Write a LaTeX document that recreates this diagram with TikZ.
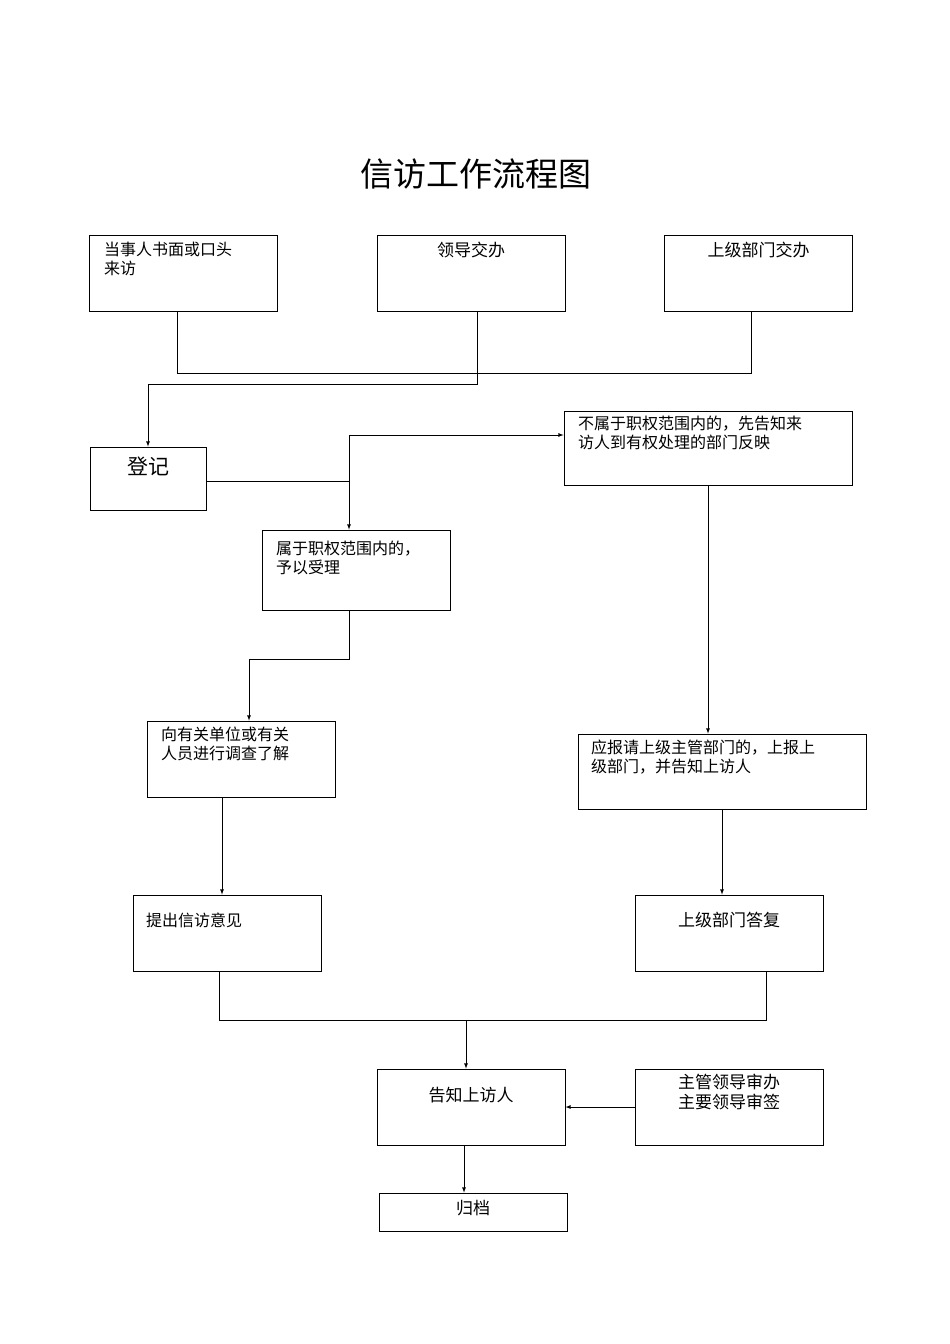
\documentclass[tikz,border=0pt]{standalone}
\usepackage{fontspec}
\newfontfamily\cjk{Noto Sans CJK SC}
\usetikzlibrary{positioning}
\tikzset{
	box/.style={draw, line width=0.8pt, minimum width=188pt, minimum height=76pt, inner sep=0pt},
	txt/.style={anchor=north west, align=left, font=\cjk\fontsize{16}{19}\selectfont, inner sep=0pt},
	ctxt/.style={anchor=north, align=center, font=\cjk\fontsize{17}{20}\selectfont, inner sep=0pt},
	line/.style={line width=0.8pt},
	arr/.style={line width=0.8pt, -latex}
}
\begin{document}
\begin{tikzpicture}[x=1pt,y=-1pt]
\useasboundingbox (0,0) rectangle (950,1344);

\node[font=\cjk\fontsize{33}{36}\selectfont] (title) at (476,174) {信访工作流程图};

% top row
\node[box] (a) at (183.5,273.5) {};
\node[txt] at (104,242) {当事人书面或口头\\来访};
\node[box] (b) at (471,273.5) {};
\node[ctxt] at (471,242) {领导交办};
\node[box] (c) at (758.5,273.5) {};
\node[ctxt] at (758.5,242) {上级部门交办};

% register
\node[box, minimum width=116pt, minimum height=63pt] (d) at (148,478.5) {};
\node[font=\cjk\fontsize{21}{24}\selectfont] at (148,466) {登记};

\node[box, minimum width=288pt, minimum height=74pt] (f) at (708,448) {};
\node[txt] at (578,416) {不属于职权范围内的，先告知来\\访人到有权处理的部门反映};
\node[box, minimum height=80pt] (e) at (356,570) {};
\node[txt] at (276,541) {属于职权范围内的，\\予以受理};

\node[box] (g) at (241,759) {};
\node[txt] at (161,727) {向有关单位或有关\\人员进行调查了解};
\node[box, minimum width=288pt, minimum height=75pt] (i) at (722,771.5) {};
\node[txt] at (591,740) {应报请上级主管部门的，上报上\\级部门，并告知上访人};

\node[box] (h) at (227,933) {};
\node[txt] at (146,913) {提出信访意见};
\node[box] (j) at (729,933) {};
\node[ctxt] at (729,912) {上级部门答复};

\node[box] (k) at (471,1107) {};
\node[ctxt] at (471,1087) {告知上访人};
\node[box] (l) at (729,1107) {};
\node[ctxt] at (729,1074) {主管领导审办\\主要领导审签};
\node[box, minimum height=38pt] (m) at (473,1212) {};
\node[ctxt] at (473,1200) {归档};

% junctions
\coordinate (ja) at (177,373);
\coordinate (jc) at (751,373);
\coordinate (jb) at (477,384);
\coordinate (jd) at (148,384);
\coordinate (je) at (349,481);
\coordinate (jf) at (349,435);
\coordinate (jg) at (349,659);
\coordinate (jh) at (249,659);
\coordinate (jl) at (219,1020);
\coordinate (jr) at (766,1020);
\coordinate (jk) at (466,1020);

\draw[line] (a.south -| ja) -- (ja) -- (jc) -- (c.south -| jc);
\draw[line] (b.south -| jb) -- (jb) -- (jd);
\draw[arr] (jd) -- (d.north);
\draw[line] (d.east |- je) -- (je);
\draw[arr] (jf) -- (e.north -| jf);
\draw[arr] (jf) -- (f.west |- jf);
\draw[line] (e.south -| jg) -- (jg) -- (jh);
\draw[arr] (jh) -- (g.north -| jh);
\draw[arr] (g.south -| 222,0) -- (h.north -| 222,0);
\draw[arr] (f.south) -- (i.north -| f.south);
\draw[arr] (i.south) -- (j.north -| i.south);
\draw[line] (h.south -| jl) -- (jl) -- (jr) -- (j.south -| jr);
\draw[arr] (jk) -- (k.north -| jk);
\draw[arr] (l.west) -- (k.east);
\draw[arr] (k.south -| 464,0) -- (m.north -| 464,0);
\end{tikzpicture}
\end{document}
